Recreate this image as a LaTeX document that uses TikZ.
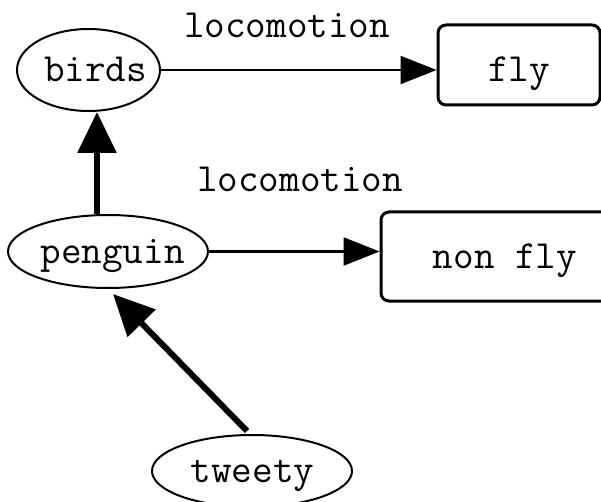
\documentclass[tikz,border=0pt]{standalone}
\usepackage{fontspec}
\usetikzlibrary{shapes.geometric,arrows.meta,calc}
\newcommand\ctext[2][0pt]{\makebox[0pt]{\hspace*{#1}#2}}
\tikzset{
  every node/.style={font=\ttfamily\fontsize{40}{44}\selectfont, text height=23pt, text depth=0pt},
  ell/.style={ellipse, draw, line width=2pt, inner sep=0pt},
  rbox/.style={rectangle, draw, line width=3pt, rounded corners=8pt, inner sep=0pt},
  lbl/.style={inner sep=0pt},
  thinarrow/.style={line width=2.5pt, -{Triangle[length=36pt,width=28pt]}},
  thickarrow/.style={line width=6pt, -{Triangle[length=41pt,width=38pt]}}
}
\begin{document}
\begin{tikzpicture}[x=1pt,y=-1pt]
\useasboundingbox (0,0) rectangle (601,502);
\begin{scope}
\clip (0,0) rectangle (601,502);
\node[ell, minimum width=143pt, minimum height=82pt] (birds) at (88.5,70) {\ctext[14pt]{birds}};
\node[rbox, minimum width=162pt, minimum height=80pt, text height=34pt] (fly) at (519,65) {fly};
\node[ell, minimum width=200pt, minimum height=73pt] (penguin) at (108,251.5) {\ctext[9pt]{penguin}};
\node[rbox, minimum width=248pt, minimum height=89pt] (nonfly) at (505,256.5) {non fly};
\node[ell, minimum width=200pt, minimum height=72pt] (tweety) at (252,471) {\ctext[1pt]{tweety}};
\node[lbl] (l1) at (287,26) {locomotion};
\node[lbl] (l2) at (300,180) {locomotion};
\draw[thinarrow] (birds.east) -- (birds.east -| fly.west);
\draw[thinarrow] (penguin.east) -- (penguin.east -| nonfly.west);
\draw[thickarrow] (penguin.north -| 97,0) -- (birds.south -| 97,0);
\draw[thickarrow] ($(tweety.north)+(-5,-3)$) -- ($(penguin.south)+(5,5)$);
\end{scope}
\end{tikzpicture}
\end{document}
